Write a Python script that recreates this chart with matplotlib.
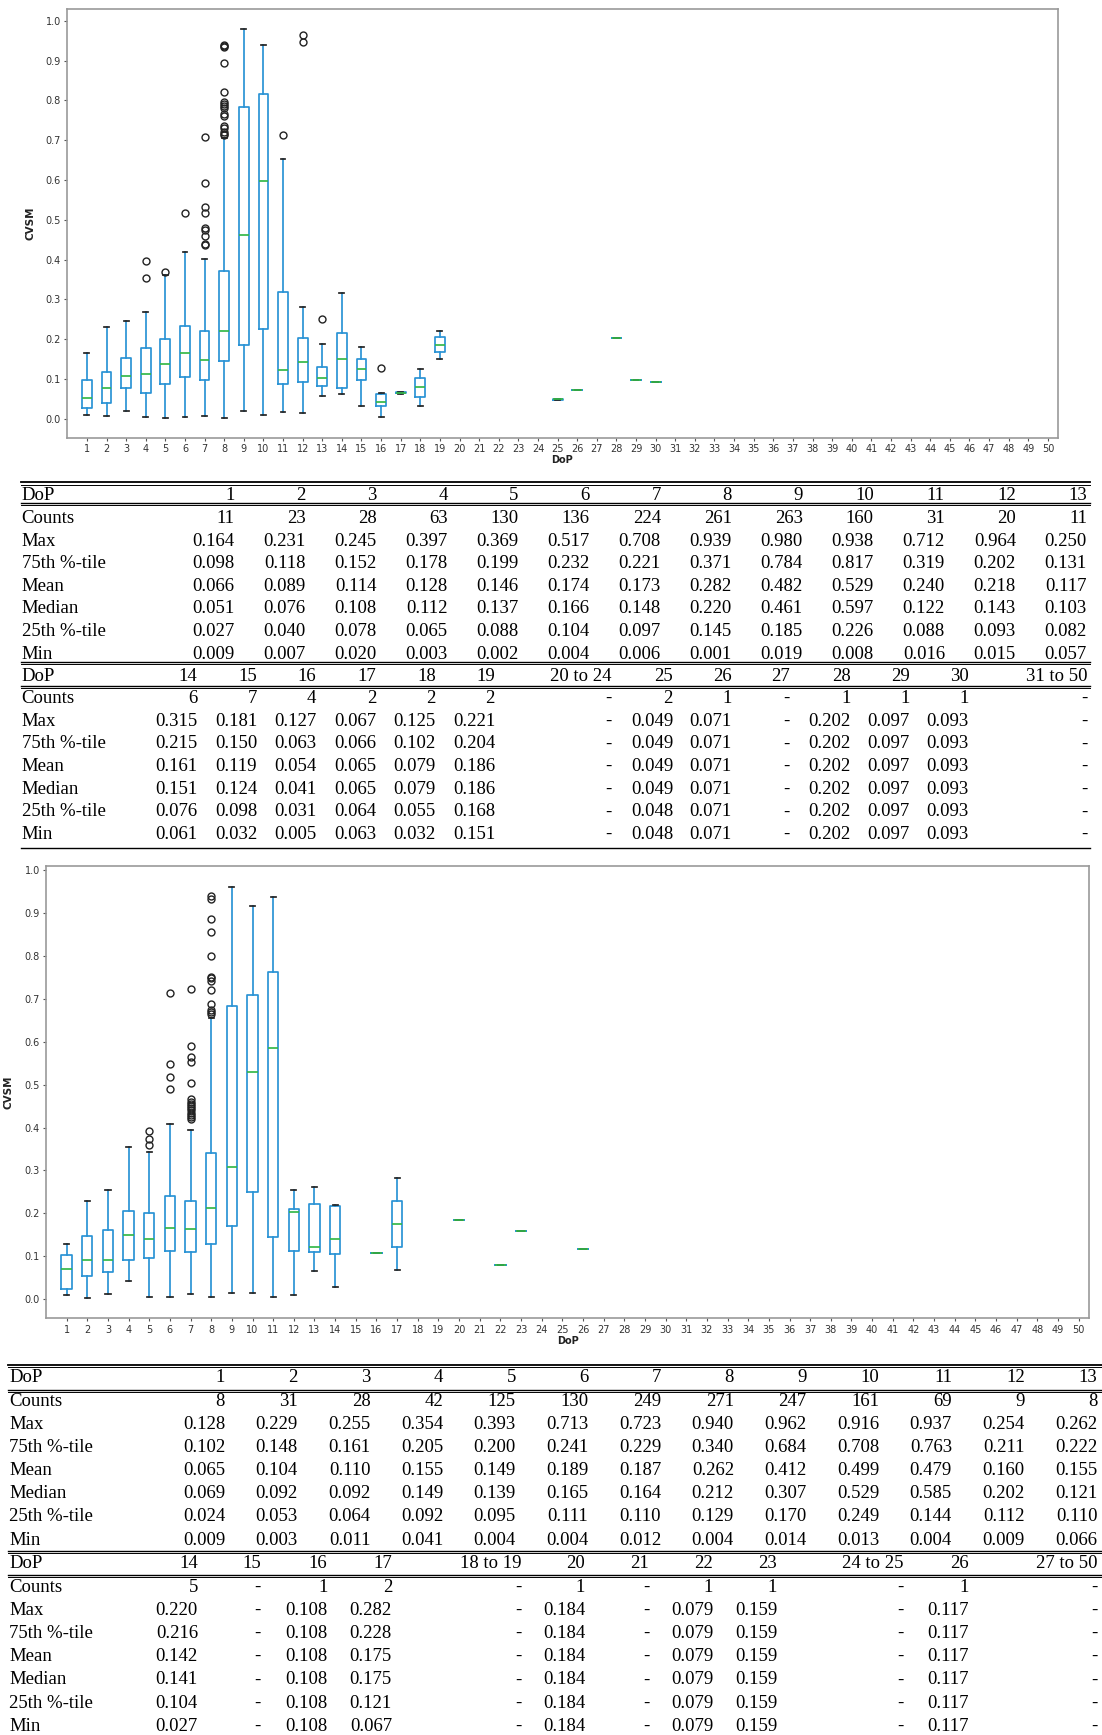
import numpy as np
import matplotlib
matplotlib.use("Agg")
import matplotlib.pyplot as plt
from matplotlib.lines import Line2D

W, H = 1102, 1735

# ---------------- data: upper chart / table ----------------
dop_a = [1, 2, 3, 4, 5, 6, 7, 8, 9, 10, 11, 12, 13, 14, 15, 16, 17, 18, 19, 25, 26, 28, 29, 30]
counts_a = [11, 23, 28, 63, 130, 136, 224, 261, 263, 160, 31, 20, 11, 6, 7, 4, 2, 2, 2, 2, 1, 1, 1, 1]
max_a = [0.164, 0.231, 0.245, 0.397, 0.369, 0.517, 0.708, 0.939, 0.980, 0.938, 0.712, 0.964, 0.250,
         0.315, 0.181, 0.127, 0.067, 0.125, 0.221, 0.049, 0.071, 0.202, 0.097, 0.093]
q3_a = [0.098, 0.118, 0.152, 0.178, 0.199, 0.232, 0.221, 0.371, 0.784, 0.817, 0.319, 0.202, 0.131,
        0.215, 0.150, 0.063, 0.066, 0.102, 0.204, 0.049, 0.071, 0.202, 0.097, 0.093]
mean_a = [0.066, 0.089, 0.114, 0.128, 0.146, 0.174, 0.173, 0.282, 0.482, 0.529, 0.240, 0.218, 0.117,
          0.161, 0.119, 0.054, 0.065, 0.079, 0.186, 0.049, 0.071, 0.202, 0.097, 0.093]
med_a = [0.051, 0.076, 0.108, 0.112, 0.137, 0.166, 0.148, 0.220, 0.461, 0.597, 0.122, 0.143, 0.103,
         0.151, 0.124, 0.041, 0.065, 0.079, 0.186, 0.049, 0.071, 0.202, 0.097, 0.093]
q1_a = [0.027, 0.040, 0.078, 0.065, 0.088, 0.104, 0.097, 0.145, 0.185, 0.226, 0.088, 0.093, 0.082,
        0.076, 0.098, 0.031, 0.064, 0.055, 0.168, 0.048, 0.071, 0.202, 0.097, 0.093]
min_a = [0.009, 0.007, 0.020, 0.003, 0.002, 0.004, 0.006, 0.001, 0.019, 0.008, 0.016, 0.015, 0.057,
         0.061, 0.032, 0.005, 0.063, 0.032, 0.151, 0.048, 0.071, 0.202, 0.097, 0.093]
# upper whisker ends
whishi_a = [0.164, 0.231, 0.245, 0.267, 0.362, 0.418, 0.401, 0.706, 0.980, 0.938, 0.652, 0.280, 0.187,
            0.315, 0.181, 0.064, 0.067, 0.125, 0.221, 0.049, 0.071, 0.202, 0.097, 0.093]
fliers_a = {
    4: [0.397, 0.353],
    5: [0.369],
    6: [0.517],
    7: [0.708, 0.592, 0.531, 0.518, 0.480, 0.473, 0.458, 0.439, 0.436],
    8: [0.939, 0.937, 0.935, 0.895, 0.820, 0.795, 0.790, 0.785, 0.780, 0.765, 0.760,
        0.735, 0.730, 0.720, 0.715, 0.712],
    11: [0.712],
    12: [0.964, 0.947],
    13: [0.250],
    16: [0.127],
}
cols_a1 = ['1', '2', '3', '4', '5', '6', '7', '8', '9', '10', '11', '12', '13']
cols_a2 = ['14', '15', '16', '17', '18', '19', '20 to 24', '25', '26', '27', '28', '29', '30', '31 to 50']

# ---------------- data: lower chart / table ----------------
dop_b = [1, 2, 3, 4, 5, 6, 7, 8, 9, 10, 11, 12, 13, 14, 16, 17, 20, 22, 23, 26]
counts_b = [8, 31, 28, 42, 125, 130, 249, 271, 247, 161, 69, 9, 8, 5, 1, 2, 1, 1, 1, 1]
max_b = [0.128, 0.229, 0.255, 0.354, 0.393, 0.713, 0.723, 0.940, 0.962, 0.916, 0.937, 0.254, 0.262,
         0.220, 0.108, 0.282, 0.184, 0.079, 0.159, 0.117]
q3_b = [0.102, 0.148, 0.161, 0.205, 0.200, 0.241, 0.229, 0.340, 0.684, 0.708, 0.763, 0.211, 0.222,
        0.216, 0.108, 0.228, 0.184, 0.079, 0.159, 0.117]
mean_b = [0.065, 0.104, 0.110, 0.155, 0.149, 0.189, 0.187, 0.262, 0.412, 0.499, 0.479, 0.160, 0.155,
          0.142, 0.108, 0.175, 0.184, 0.079, 0.159, 0.117]
med_b = [0.069, 0.092, 0.092, 0.149, 0.139, 0.165, 0.164, 0.212, 0.307, 0.529, 0.585, 0.202, 0.121,
         0.141, 0.108, 0.175, 0.184, 0.079, 0.159, 0.117]
q1_b = [0.024, 0.053, 0.064, 0.092, 0.095, 0.111, 0.110, 0.129, 0.170, 0.249, 0.144, 0.112, 0.110,
        0.104, 0.108, 0.121, 0.184, 0.079, 0.159, 0.117]
min_b = [0.009, 0.003, 0.011, 0.041, 0.004, 0.004, 0.012, 0.004, 0.014, 0.013, 0.004, 0.009, 0.066,
         0.027, 0.108, 0.067, 0.184, 0.079, 0.159, 0.117]
whishi_b = [0.128, 0.229, 0.255, 0.354, 0.344, 0.408, 0.395, 0.655, 0.962, 0.916, 0.937, 0.254, 0.262,
            0.220, 0.108, 0.282, 0.184, 0.079, 0.159, 0.117]
fliers_b = {
    5: [0.393, 0.374, 0.360],
    6: [0.713, 0.548, 0.518, 0.490],
    7: [0.723, 0.590, 0.564, 0.553, 0.503, 0.467, 0.460, 0.455, 0.450, 0.445, 0.440,
        0.435, 0.430, 0.425, 0.420],
    8: [0.940, 0.932, 0.887, 0.856, 0.799, 0.752, 0.748, 0.741, 0.720, 0.688, 0.675,
        0.670, 0.665],
}
cols_b1 = ['1', '2', '3', '4', '5', '6', '7', '8', '9', '10', '11', '12', '13']
cols_b2 = ['14', '15', '16', '17', '18 to 19', '20', '21', '22', '23', '24 to 25', '26', '27 to 50']

row_names = ['Counts', 'Max', '75th %-tile', 'Mean', 'Median', '25th %-tile', 'Min']

BLUE = '#2a93d5'
GREEN = '#35b84a'

fig = plt.figure(figsize=(W / 100, H / 100), dpi=100)


def fx(px):
    return px / W


def fy(py):
    return 1 - py / H


def box_axes(rect_px, dop, q1, med, q3, lo, hi, fliers, ylab_x):
    l, t, r, b = rect_px
    ax = fig.add_axes([fx(l), fy(b), fx(r) - fx(l), fy(t) - fy(b)])
    stats = []
    for i, d in enumerate(dop):
        stats.append(dict(med=med[i], q1=q1[i], q3=q3[i], whislo=lo[i], whishi=hi[i],
                          fliers=fliers.get(d, [])))
    ax.bxp(stats, positions=dop, widths=0.5, manage_ticks=False,
           boxprops=dict(color=BLUE, lw=1.25),
           whiskerprops=dict(color=BLUE, lw=1.25),
           capprops=dict(color='#222222', lw=1.25),
           medianprops=dict(color=GREEN, lw=1.25),
           flierprops=dict(marker='o', markerfacecolor='none', markeredgecolor='#222222',
                           markersize=5, markeredgewidth=1.0))
    ax.set_xlim(0, 50.5)
    ax.set_xticks(range(1, 51))
    ax.set_yticks(np.arange(0, 1.01, 0.1))
    ax.yaxis.set_major_formatter(plt.FormatStrFormatter('%.1f'))
    ax.tick_params(labelsize=7, length=2.5, width=0.8, pad=2, colors='#555555', labelcolor='#333333')
    for s in ax.spines.values():
        s.set_color('#999999')
        s.set_linewidth(1.2)
    ax.set_xlabel('DoP', fontsize=7, fontweight='bold', labelpad=1, color='#222222')
    ax.set_ylabel('CVSM', fontsize=7.5, fontweight='bold', color='#222222')
    ax.yaxis.set_label_coords((ylab_x - l) / (r - l), 0.5)
    return ax


box_axes((67.3, 9.3, 1057.7, 437.7), dop_a, q1_a, med_a, q3_a, min_a, whishi_a, fliers_a, 35)
box_axes((46, 866, 1089, 1318.3), dop_b, q1_b, med_b, q3_b, min_b, whishi_b, fliers_b, 14)


def hline(y, x0, x1, double=False, lw=1.0):
    fig.add_artist(Line2D([fx(x0), fx(x1)], [fy(y), fy(y)], color='black', lw=lw))
    if double:
        fig.add_artist(Line2D([fx(x0), fx(x1)], [fy(y + 2.2), fy(y + 2.2)], color='black', lw=0.7))


def column_values(header, dop, series):
    try:
        d = int(header)
    except ValueError:
        return ['-'] * len(series)
    if d not in dop:
        return ['-'] * len(series)
    i = dop.index(d)
    out = [str(series[0][i])]
    for s in series[1:]:
        out.append('%.3f' % s[i])
    return out


def table_block(cols, xs, y_head, y_rows, label_x, dop, series):
    fs = 13.5
    fam = 'Liberation Serif'
    fig.text(fx(label_x), fy(y_head), 'DoP', fontsize=fs, family=fam, va='center', ha='left')
    for name, yy in zip(row_names, y_rows):
        fig.text(fx(label_x), fy(yy), name, fontsize=fs, family=fam, va='center', ha='left')
    for c, x in zip(cols, xs):
        fig.text(fx(x), fy(y_head), c, fontsize=fs, family=fam, va='center', ha='right')
        vals = column_values(c, dop, series)
        for v, yy in zip(vals, y_rows):
            fig.text(fx(x), fy(yy), v, fontsize=fs, family=fam, va='center', ha='right')


series_a = [counts_a, max_a, q3_a, mean_a, med_a, q1_a, min_a]
series_b = [counts_b, max_b, q3_b, mean_b, med_b, q1_b, min_b]

# upper table
xa1 = [234.6 + k * 71.03 for k in range(13)]
xa2 = [197.5, 257, 316.4, 376, 435.7, 495, 612, 673, 731.8, 790, 850.7, 909.6, 968.6, 1087]
table_block(cols_a1, xa1, 495, [518.5 + i * 22.6 for i in range(7)], 21.5, dop_a, series_a)
table_block(cols_a2, xa2, 676.5, [698.5 + i * 22.67 for i in range(7)], 21.5, dop_a, series_a)
hline(482.5, 21, 1090, double=True, lw=1.3)
hline(503, 21, 1090, double=True)
hline(662, 21, 1090, double=True)
hline(686, 21, 1090, double=True)
hline(848.5, 21, 1090)

# lower table
xb1 = [225 + k * 72.7 for k in range(13)]
xb2 = [198, 260.7, 327.5, 392, 521, 585, 649, 713, 777, 904, 968.6, 1097]
table_block(cols_b1, xb1, 1377.5, [1401 + i * 23.17 for i in range(7)], 9, dop_b, series_b)
table_block(cols_b2, xb2, 1563, [1587.5 + i * 23.1 for i in range(7)], 9, dop_b, series_b)
hline(1364.5, 8, 1102, double=True, lw=1.3)
hline(1389.5, 8, 1102, double=True)
hline(1550.5, 8, 1102, double=True)
hline(1574.5, 8, 1102, double=True)

fig.savefig('out.png', dpi=100)
